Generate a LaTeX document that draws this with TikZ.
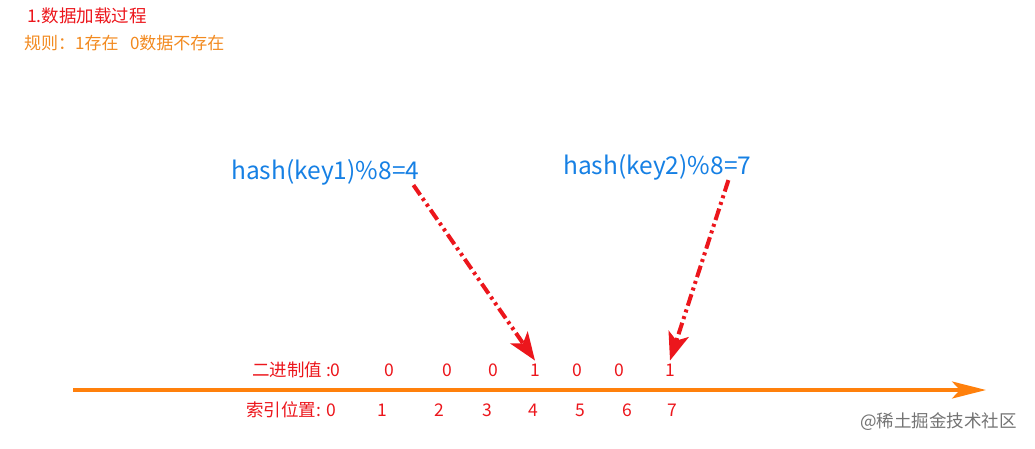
\documentclass[tikz,border=0pt]{standalone}
\usepackage{fontspec}
\setmainfont{Noto Sans CJK SC}
\usetikzlibrary{arrows.meta}
\definecolor{rd}{RGB}{236,22,28}
\definecolor{og}{RGB}{242,138,32}
\definecolor{bl}{RGB}{22,128,228}
\definecolor{ln}{RGB}{255,128,12}

\begin{document}
\begin{tikzpicture}[x=1pt,y=-1pt,
        hashlabel/.style={text=bl,inner sep=0pt,font=\fontsize{24.5}{24.5}\selectfont},
        bitlabel/.style={text=rd,inner sep=0pt,font=\fontsize{17.5}{17.5}\selectfont},
        hashline/.style={rd,line width=4pt,dash pattern=on 12pt off 4pt on 3pt off 4pt on 3pt off 4pt,
            -{Stealth[length=28pt,width=21pt,inset=7pt]}}]
    \useasboundingbox (0,0) rectangle (1035,448);
    \begin{scope}
        \node[anchor=west,text=rd,inner sep=0pt,font=\fontsize{17.5}{17.5}\selectfont] (title) at (27,16) {1.数据加载过程};
        \node[anchor=west,text=og,inner sep=0pt,font=\fontsize{17}{17}\selectfont] (rule) at (24,43) {规则：1存在\ \ \ 0数据不存在};
    \end{scope}
    \begin{scope}
        \node[hashlabel,anchor=west] (h1) at (231,172) {hash(key1)\%8=4};
        \node[hashlabel,anchor=west] (h2) at (563,167) {hash(key2)\%8=7};
    \end{scope}
    % binary row
    \node[bitlabel,anchor=west] (b0) at (252,370) {二进制值 :0};
    \foreach \x/\v [count=\i] in {389/0,447/0,493/0,535/1,577/0,619/0,670/1}
        \node[bitlabel] (b\i) at (\x,370) {\v};
    % axis
    \coordinate (axl) at (73,390);
    \coordinate (axr) at (986,390);
    \draw[ln,line width=3.5pt,-{Stealth[length=34pt,width=17pt,inset=8pt]}] (axl) -- (axr);
    % index row
    \node[bitlabel,anchor=west] (i0) at (246,410) {索引位置: 0};
    \foreach \x [count=\i] in {382,439,487,533,580,627,672}
        \node[bitlabel] (i\i) at (\x,410) {\i};
    % hash arrows
    \draw[hashline] ([xshift=-6pt]h1.south east) -- ([yshift=3pt]b4.north);
    \draw[hashline] ([xshift=-23pt]h2.south east) -- ([yshift=3pt]b7.north);
    % watermark
    \node[anchor=west,text=black!55,inner sep=0pt,font=\fontsize{17.5}{17.5}\selectfont] (mark) at (860,422) {@稀土掘金技术社区};
\end{tikzpicture}
\end{document}
